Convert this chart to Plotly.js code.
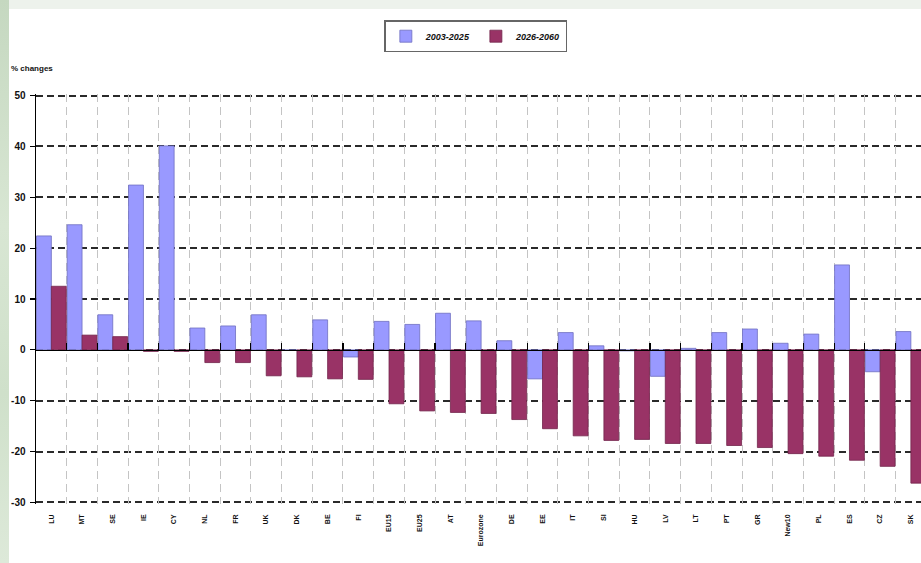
<!DOCTYPE html>
<html>
<head>
<meta charset="utf-8">
<script src="https://cdn.plot.ly/plotly-3.0.1.min.js"></script>
<style>
  html, body { margin: 0; padding: 0; width: 921px; height: 563px; overflow: hidden; background: #edf2ec; }
  #leftstrip { position: absolute; left: 0; top: 0; width: 9px; height: 563px;
    background: linear-gradient(to bottom, #c5d8c0 0%, #d8e6d3 40%, #cfe0ca 70%, #dde9d9 100%); }
  #chart { position: absolute; left: 9px; top: 9px; width: 912px; height: 554px; background: #ffffff; }
</style>
</head>
<body>
<div id="leftstrip"></div>
<div id="chart"></div>
<script>
// Categories (countries / aggregates)
const categories = ["LU","MT","SE","IE","CY","NL","FR","UK","DK","BE","FI","EU15","EU25","AT","Eurozone","DE","EE","IT","SI","HU","LV","LT","PT","GR","New10","PL","ES","CZ","SK"];
// % changes, 2003-2025
const series1Name = "2003-2025";
const series1 = [22.4, 24.6, 6.9, 32.4, 40.1, 4.3, 4.7, 6.9, -0.1, 5.9, -1.4, 5.6, 5.0, 7.2, 5.7, 1.8, -5.7, 3.4, 0.8, -0.2, -5.2, 0.3, 3.4, 4.1, 1.3, 3.1, 16.7, -4.3, 3.6];
// % changes, 2026-2060
const series2Name = "2026-2060";
const series2 = [12.5, 2.9, 2.6, -0.3, -0.3, -2.5, -2.5, -5.1, -5.3, -5.7, -5.8, -10.6, -12.0, -12.3, -12.5, -13.7, -15.5, -16.9, -17.8, -17.6, -18.4, -18.4, -18.8, -19.2, -20.4, -20.9, -21.7, -22.9, -26.2];
const yTicks = [-30, -20, -10, 0, 10, 20, 30, 40, 50];

const narrow = "'Liberation Sans Narrow', 'Arial Narrow', Arial, sans-serif";
const tickFont = { family: narrow, size: 10, color: "#111", weight: "bold" };

const traces = [
  { type: "bar", name: series1Name, x: categories, y: series1,
    marker: { color: "#9999ff", line: { color: "#6f6fc0", width: 0.8 } }, hoverinfo: "x+y" },
  { type: "bar", name: series2Name, x: categories, y: series2,
    marker: { color: "#993366", line: { color: "#72244b", width: 0.8 } }, hoverinfo: "x+y" },
  // invisible helper so the boundary-grid axis is drawn
  { type: "scatter", x: [0], y: [0], xaxis: "x2", mode: "markers",
    marker: { opacity: 0 }, showlegend: false, hoverinfo: "skip" }
];

const xRange = [-0.5, 28.33];
const yRange = [-30.3, 50.3];

const layout = {
  width: 912, height: 554,
  paper_bgcolor: "rgba(0,0,0,0)",
  plot_bgcolor: "rgba(0,0,0,0)",
  margin: { l: 27, r: 0, t: 85, b: 59 },
  barmode: "group",
  bargap: 0.03,
  bargroupgap: 0,
  showlegend: true,
  legend: {
    orientation: "h", x: 0.497, xanchor: "center", y: 1.18, yanchor: "top",
    bordercolor: "#666", borderwidth: 1.5, bgcolor: "#ffffff",
    font: { family: narrow, size: 9, style: "italic", weight: "bold", color: "#111" },
    itemwidth: 30, tracegroupgap: 0, entrywidth: 0
  },
  xaxis: {
    type: "category", range: xRange, fixedrange: true,
    showgrid: false, zeroline: false, showline: false, ticks: "",
    tickangle: -90, tickfont: { family: "Arial, sans-serif", size: 7, color: "#111", weight: "bold" },
    ticklabelstandoff: 8
  },
  xaxis2: {
    type: "linear", overlaying: "x", anchor: "free", position: (0 - yRange[0]) / (yRange[1] - yRange[0]), side: "bottom",
    range: xRange, tick0: 0.5, dtick: 1, showticklabels: false,
    ticks: "inside", ticklen: 7, tickcolor: "#000", tickwidth: 1.2,
    showgrid: true, gridcolor: "#c4c4c4", gridwidth: 1, griddash: "8px,5px",
    zeroline: false, showline: true, linecolor: "#000", linewidth: 1.5, fixedrange: true
  },
  yaxis: {
    range: yRange, tickvals: yTicks, ticktext: yTicks.map(String),
    showgrid: true, gridcolor: "#2a2a2a", gridwidth: 2, griddash: "7px,4px",
    zeroline: false, showline: true, linecolor: "#000", linewidth: 1.5,
    ticks: "outside", ticklen: 5, tickcolor: "#000", tickwidth: 1.2,
    tickfont: tickFont, ticklabelstandoff: 2, fixedrange: true
  },
  annotations: [
    { text: "% changes", xref: "paper", yref: "paper", x: -0.03, y: 1.062,
      xanchor: "left", yanchor: "middle", showarrow: false,
      font: { family: narrow, size: 8, color: "#111", weight: "bold" } }
  ]
};

Plotly.newPlot("chart", traces, layout, { displayModeBar: false, staticPlot: true });
</script>
</body>
</html>
